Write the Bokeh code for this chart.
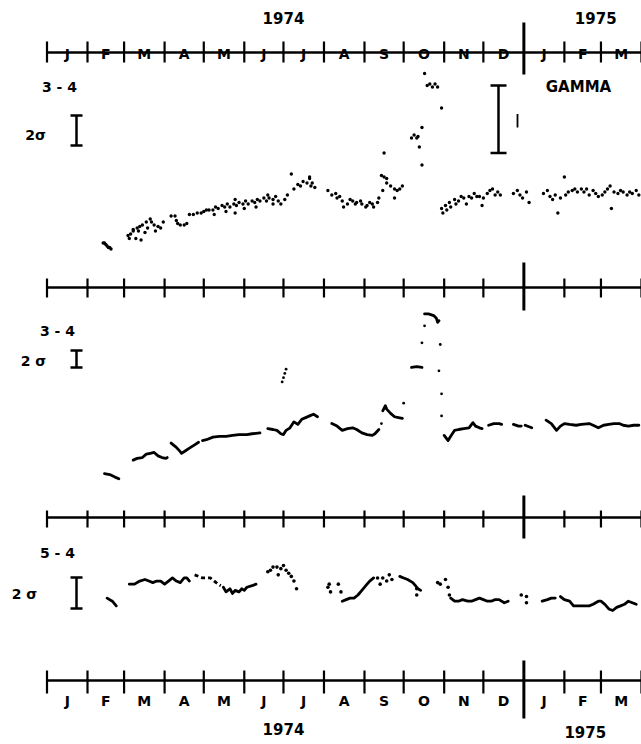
from bokeh.plotting import figure
from bokeh.models import Range1d
from bokeh.core.properties import value
from bokeh.embed import file_html
from bokeh.resources import INLINE

nan = float("nan")

# ---------------- data ----------------
# days since 1 Jan 1974
month_starts = [0, 31, 59, 90, 120, 151, 181, 212, 243, 273, 304, 334, 365, 396, 424, 455]
month_labels = ["J", "F", "M", "A", "M", "J", "J", "A", "S", "O", "N", "D", "J", "F", "M"]
year_labels = ["1974", "1975"]
year_days = [181, 420]
year_days_bottom = [181, 412]
new_year_day = 365
panel_labels = ["3 - 4", "3 - 4", "5 - 4"]
sigma_labels = ["2\u03c3", "2 \u03c3", "2 \u03c3"]

# panel 1 (GAMMA, 3-4) : scattered daily points, values in sigma units
p1_day = [43, 44, 45, 46, 47, 48, 49,
          62, 63, 64, 66, 66, 68, 69, 70, 71, 72, 73, 75, 76, 77, 79, 80, 82, 83, 85, 87, 89,
          95, 98, 99, 100, 102, 105, 107,
          109, 112, 115,
          118, 120, 122, 124, 127, 129, 131, 134, 136, 138, 140, 143, 145, 147, 150, 152, 154, 157, 159, 161,
          163, 166, 168, 170, 173, 175, 177, 179, 182, 184,
          128, 137, 144, 151, 160, 169, 173, 144,
          187, 189, 192, 194, 196, 199, 201, 203, 205, 201, 202,
          215, 218, 221, 222, 224, 226, 227, 230, 232, 234, 236, 237, 240, 241, 244, 245, 247, 249, 250, 253, 254,
          256, 258, 260, 258, 260, 263, 266, 268, 270, 272, 266, 257,
          279, 281, 283, 284, 285, 287, 287, 289, 291, 293, 295, 297, 299, 302,
          302, 303, 305, 306, 308, 309, 312, 313, 315, 317, 319, 321, 323, 325, 327, 329, 331, 333, 334,
          337, 339, 341, 343, 345, 347, 357, 360, 362, 364, 367, 369,
          380, 383, 385, 387, 389, 391, 393, 396, 397, 399, 402, 404, 406, 409, 411, 413, 415, 418, 420, 422,
          425, 427, 429, 431, 432, 434, 437, 439, 441, 444, 446, 448, 451, 453]
p1_val = [0.5, 0.5, 0.4, 0.3, 0.2, 0.2, 0.1,
          1.0, 0.8, 1.1, 1.4, 1.3, 0.8, 1.5, 1.3, 1.6, 0.7, 1.7, 1.2, 1.9, 1.5, 2.1, 1.9, 1.7, 1.3, 1.6, 1.5, 1.9,
          2.3, 2.3, 2.0, 1.8, 1.7, 1.7, 1.8,
          2.4, 2.4, 2.5,
          2.5, 2.6, 2.7, 2.7, 2.7, 2.9, 2.8, 3.0, 2.9, 3.1, 2.9, 3.1, 3.0, 3.2, 3.1, 3.3, 3.1, 3.3, 3.2, 3.4,
          3.3, 3.5, 3.3, 3.5, 3.4, 3.6, 3.3, 3.1, 3.4, 3.7,
          2.4, 2.6, 3.4, 2.8, 2.9, 3.7, 3.1, 2.5,
          5.1, 4.1, 4.4, 4.3, 4.6, 4.5, 4.8, 4.5, 4.2, 4.9, 4.3,
          4.0, 3.7, 3.8, 3.5, 3.6, 3.3, 2.9, 3.1, 3.4, 3.3, 3.1, 3.2, 3.3, 3.1, 2.9, 3.0, 3.2, 3.1, 2.9, 3.2, 3.5,
          5.0, 4.9, 4.8, 6.5, 4.5, 4.3, 4.1, 4.0, 4.1, 4.3, 3.5, 4.0,
          7.5, 7.7, 7.5, 7.6, 6.9, 8.2, 5.7, 11.8, 11.0, 11.1, 10.9, 11.1, 10.9, 9.5,
          2.8, 2.5, 3.0, 2.7, 3.2, 2.9, 3.4, 3.1, 3.3, 3.6, 3.5, 3.1, 3.6, 3.5, 3.8, 3.6, 3.6, 3.0, 3.5,
          3.8, 4.0, 4.1, 3.7, 3.9, 3.7, 3.8, 4.0, 3.7, 3.5, 3.9, 3.2,
          3.8, 4.0, 3.6, 3.4, 3.7, 2.5, 3.5, 4.9, 3.7, 3.9, 4.0, 4.1, 3.9, 4.1, 3.9, 4.1, 3.7, 4.0, 3.8, 3.6,
          3.7, 3.9, 4.1, 4.3, 2.8, 3.9, 3.8, 4.0, 3.9, 3.7, 3.9, 3.8, 4.0, 3.7]

# panel 2 (3-4, smoothed): running curve with gaps (nan)
p2_day = [44, 48, 52, 55, nan,
          66, 69, 73, 76, 79, 82, 85, 88, 91, 92, nan,
          95, 99, 102, 103, 106, 109, 113, 116, nan,
          119, 122, 127, 132, 137, 142, 147, 153, 157, 163, nan,
          169, 173, 176, 179, 181, 183, 186, 189, 192, 195, 198, 201, 204, 207, nan,
          218, 222, 226, 230, 234, 237, 241, 245, 249, 251, 254, nan,
          257, 259, 260, 263, 266, 269, 272, nan,
          279, 283, 287, nan,
          289, 292, 296, 298, 299, 300, nan,
          304, 307, 309, 312, 315, 319, 323, 326, 328, 331, 333, nan,
          338, 342, 346, 348, nan,
          357, 361, 363, nan,
          366, 371, nan,
          382, 386, 390, 393, 396, 400, 405, 409, 415, 418, 422, 426, 430, 434, 438, 441, 445, 449, 453]
p2_val = [0.8, 0.7, 0.4, 0.2, nan,
          2.4, 2.6, 2.7, 3.1, 3.2, 3.3, 2.9, 2.7, 2.6, 2.7, nan,
          4.4, 3.9, 3.4, 3.2, 3.5, 3.8, 4.2, 4.5, nan,
          4.7, 4.8, 5.1, 5.2, 5.2, 5.3, 5.4, 5.4, 5.5, 5.6, nan,
          6.1, 6.0, 5.9, 5.5, 5.4, 5.9, 6.2, 6.9, 6.6, 7.2, 7.4, 7.6, 7.8, 7.5, nan,
          6.7, 6.4, 5.9, 6.1, 6.2, 6.0, 5.6, 5.4, 5.3, 5.5, 6.0, nan,
          8.2, 8.8, 8.4, 7.9, 7.5, 7.4, 7.3, nan,
          13.3, 13.4, 13.3, nan,
          19.6, 19.6, 19.4, 19.1, 18.6, 18.8, nan,
          5.3, 4.7, 5.2, 5.9, 6.0, 6.1, 6.2, 6.8, 6.4, 6.2, 6.1, nan,
          6.5, 6.7, 6.7, 6.6, nan,
          6.6, 6.4, 6.4, nan,
          6.5, 6.2, nan,
          7.1, 6.7, 5.9, 6.4, 6.7, 6.6, 6.5, 6.6, 6.7, 6.5, 6.2, 6.5, 6.6, 6.7, 6.7, 6.5, 6.4, 6.5, 6.5]
p2_dot_day = [180, 181, 182, 183, 256, 273, 287, 289, 301, 300, 302, 302]
p2_dot_val = [11.6, 12.1, 12.6, 13.1, 6.7, 9.1, 16.2, 18.2, 16.0, 12.9, 10.2, 7.6]

# panel 3 (5-4): running curve with gaps, plus isolated points
p3_day = [46, 50, 53, nan,
          63, 67, 71, 75, 78, 81, 84, 87, 90, 93, 96, 99, 102, 105, 107, 109, nan,
          135, 137, 140, 142, 144, 147, 149, 151, 153, 157, 160, nan,
          226, 229, 232, 235, 238, 241, 244, 247, 250, nan,
          270, 273, 276, 280, 282, 284, 286, nan,
          309, 312, 315, 318, 322, 325, 328, 331, 334, 337, 340, 343, 346, 350, 353, nan,
          379, 383, 386, 389, nan,
          393, 396, 400, 403, 407, 411, 415, 418, 422, 424, 427, 430, 433, 436, 439, 442, 445, 448, 451]
p3_val = [0.8, 0.6, 0.3, nan,
          1.7, 1.7, 1.9, 2.0, 1.9, 1.8, 1.9, 1.9, 1.7, 1.9, 2.1, 1.9, 1.8, 2.1, 2.1, 1.9, nan,
          1.5, 1.2, 1.4, 1.1, 1.3, 1.2, 1.4, 1.3, 1.5, 1.6, 1.7, nan,
          0.6, 0.7, 0.8, 0.8, 1.0, 1.3, 1.6, 1.9, 2.1, nan,
          2.2, 2.1, 2.0, 1.8, 1.6, 1.4, 1.3, nan,
          0.8, 0.6, 0.6, 0.7, 0.6, 0.6, 0.7, 0.8, 0.7, 0.6, 0.6, 0.7, 0.7, 0.5, 0.6, nan,
          0.6, 0.7, 0.8, 0.8, nan,
          0.9, 0.7, 0.6, 0.3, 0.3, 0.3, 0.3, 0.4, 0.6, 0.6, 0.4, 0.1, 0.0, 0.2, 0.3, 0.4, 0.6, 0.5, 0.4]
p3_dash_day = [113, 116, 119, 122, 125, 128, 131, 133]
p3_dash_val = [2.3, 2.2, 2.1, 2.1, 2.1, 1.9, 1.7, 1.6]
p3_dot_day = [169, 171, 173, 176, 179, 181, 183, 185, 187, 189, 191, 177,
              215, 216, 217, 223, 225,
              253, 255, 257, 260, 262, 264, 283, 283,
              299, 301, 305, 307, 308,
              363, 367, 367]
p3_dot_val = [2.5, 2.6, 2.8, 2.8, 2.7, 2.9, 2.6, 2.4, 2.2, 1.9, 1.4, 2.3,
              1.5, 1.7, 1.2, 1.7, 1.2,
              2.1, 1.7, 2.1, 1.9, 2.3, 2.0, 1.0, 1.4,
              1.8, 1.7, 2.0, 1.5, 1.0,
              1.0, 0.9, 0.5]

# gamma-panel reference bars (sigma units of panel 1)
gamma_bar = [6.5, 11.0]
gamma_small_bar = [8.2, 9.1]

# ---------------- layout (pixels) ----------------
W, H = 641, 744
X0_PX, PX_PER_DAY = 46.5, 1.3065
AXIS_Y = [52, 287, 517, 680]
TICK_EXT = [(11, 10), (9, 10), (7, 10), (10, 13)]
BIG_EXT = [(30, 22), (25, 23), (22, 21), (20, 38)]
# panel scales: pixel of zero value, pixels per sigma unit
P1_ZERO, P1_SCALE = 250, 15.0
P2_ZERO, P2_SCALE = 480, 8.5
P3_ZERO, P3_SCALE = 610, 15.5
FONT = value("DejaVu Sans")

p = figure(width=W, height=H,
           x_range=Range1d(-X0_PX / PX_PER_DAY, (W - X0_PX) / PX_PER_DAY),
           y_range=Range1d(H, 0),
           x_axis_type=None, y_axis_type=None,
           toolbar_location=None, output_backend="svg", min_border=0)
p.outline_line_color = None
p.background_fill_color = "white"
p.border_fill_color = "white"
p.extra_x_ranges = {"px": Range1d(0, W)}
p.extra_y_ranges = {
    "p1": Range1d(-(H - P1_ZERO) / P1_SCALE, P1_ZERO / P1_SCALE),
    "p2": Range1d(-(H - P2_ZERO) / P2_SCALE, P2_ZERO / P2_SCALE),
    "p3": Range1d(-(H - P3_ZERO) / P3_SCALE, P3_ZERO / P3_SCALE),
}

# ---- month axes ----
ticks = [m for m in month_starts if m != new_year_day]
for ay, (tu, td), (bu, bd) in zip(AXIS_Y, TICK_EXT, BIG_EXT):
    p.segment(x0=[month_starts[0]], y0=[ay], x1=[month_starts[-1] + 5], y1=[ay],
              line_color="black", line_width=2.4)
    p.segment(x0=ticks, y0=[ay - tu] * len(ticks), x1=ticks, y1=[ay + td] * len(ticks),
              line_color="black", line_width=2.2)
    p.segment(x0=[new_year_day], y0=[ay - bu], x1=[new_year_day], y1=[ay + bd],
              line_color="black", line_width=3)

mids = [(a + b) / 2 for a, b in zip(month_starts[:-1], month_starts[1:])]
p.text(x=mids, y=[AXIS_Y[0] + 1] * len(mids), text=month_labels, text_font=FONT,
       text_font_style="bold", text_font_size="14px", text_align="center",
       text_baseline="alphabetic", text_color="black")
p.text(x=mids, y=[AXIS_Y[3] + 20] * len(mids), text=month_labels, text_font=FONT,
       text_font_style="bold", text_font_size="14px", text_align="center",
       text_baseline="middle", text_color="black")
p.text(x=year_days, y=[17, 17], text=year_labels, text_font=FONT, text_font_style="bold",
       text_font_size="15px", text_align="center", text_baseline="middle", text_color="black")
p.text(x=year_days_bottom, y=[728, 731], text=year_labels, text_font=FONT, text_font_style="bold",
       text_font_size="15px", text_align="center", text_baseline="middle", text_color="black")

# ---- panel labels ----
p.text(x=[59, 57, 57], y=[86, 330, 552], text=panel_labels, x_range_name="px", text_font=FONT,
       text_font_style="bold", text_font_size="14px", text_align="center",
       text_baseline="middle", text_color="black")
p.text(x=[35, 33, 24], y=[134, 360, 593], text=sigma_labels, x_range_name="px", text_font=FONT,
       text_font_style="bold", text_font_size="14px", text_align="center",
       text_baseline="middle", text_color="black")
p.text(x=[578], y=[86], text=["GAMMA"], x_range_name="px", text_font=FONT,
       text_font_style="bold", text_font_size="15px", text_align="center",
       text_baseline="middle", text_color="black")

# ---- 2-sigma scale bars ----
BAR_X = 76
for name, base in (("p1", 7.0), ("p2", 13.3), ("p3", 0.13)):
    p.segment(x0=[BAR_X], y0=[base], x1=[BAR_X], y1=[base + 2], x_range_name="px",
              y_range_name=name, line_color="black", line_width=2.5)
    p.segment(x0=[BAR_X - 6, BAR_X - 6], y0=[base, base + 2], x1=[BAR_X + 6, BAR_X + 6],
              y1=[base, base + 2], x_range_name="px", y_range_name=name,
              line_color="black", line_width=2.5)

# gamma bars
GX = 498
p.segment(x0=[GX], y0=[gamma_bar[0]], x1=[GX], y1=[gamma_bar[1]], x_range_name="px",
          y_range_name="p1", line_color="black", line_width=2.5)
p.segment(x0=[GX - 8, GX - 8], y0=gamma_bar, x1=[GX + 8, GX + 8], y1=gamma_bar,
          x_range_name="px", y_range_name="p1", line_color="black", line_width=2.5)
p.segment(x0=[GX + 19], y0=[gamma_small_bar[0]], x1=[GX + 19], y1=[gamma_small_bar[1]],
          x_range_name="px", y_range_name="p1", line_color="black", line_width=1.8)

# ---- data ----
p.scatter(p1_day, p1_val, y_range_name="p1", size=3.4, color="black", line_width=0)
p.line(p2_day, p2_val, y_range_name="p2", line_color="black", line_width=2.8,
       line_join="round", line_cap="round")
p.scatter(p2_dot_day, p2_dot_val, y_range_name="p2", size=2.8, color="black", line_width=0)
p.line(p3_day, p3_val, y_range_name="p3", line_color="black", line_width=2.8,
       line_join="round", line_cap="round")
p.line(p3_dash_day, p3_dash_val, y_range_name="p3", line_color="black", line_width=2.8,
       line_dash="4 3")
p.scatter(p3_dot_day, p3_dot_val, y_range_name="p3", size=3.6, color="black", line_width=0)

open("out.html", "w").write(file_html(p, INLINE))
